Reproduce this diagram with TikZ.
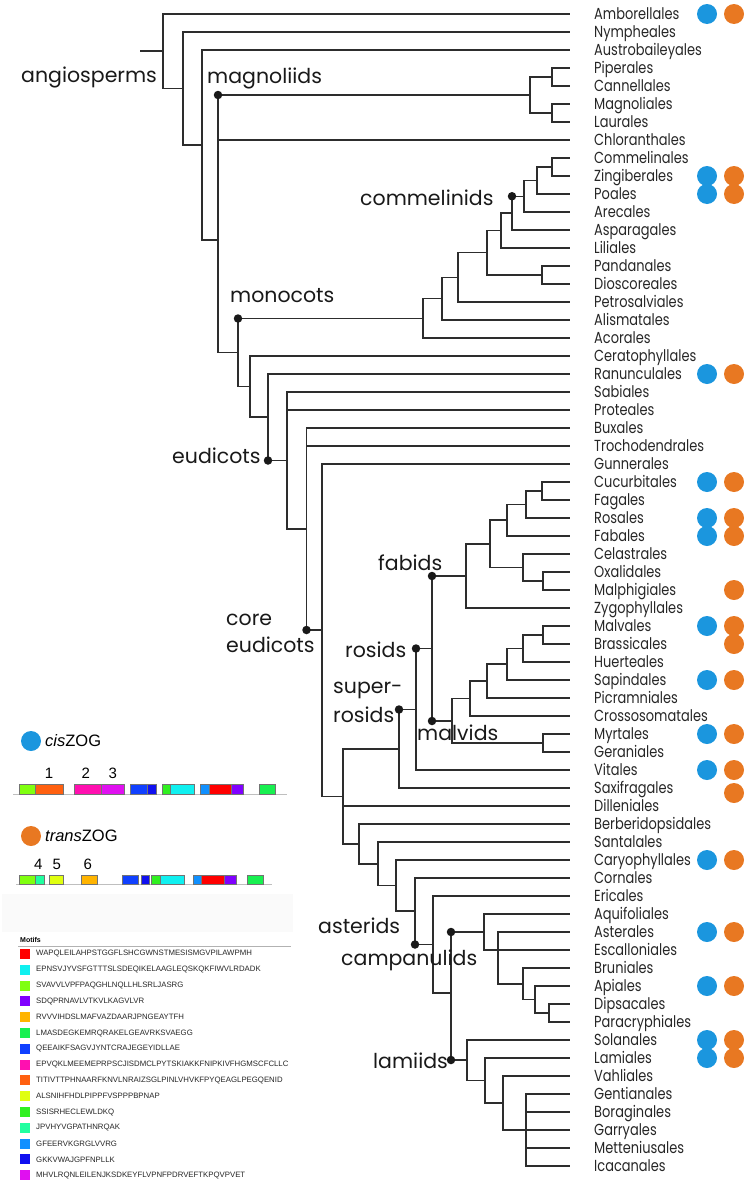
\documentclass[tikz,border=0pt]{standalone}
\usepackage{fontspec}
\setmainfont{Liberation Sans}
\newfontfamily\treefont{Poppins}
\newfontfamily\leaffont[FakeStretch=0.81]{Poppins}
\definecolor{cisblue}{RGB}{27,150,222}
\definecolor{transorange}{RGB}{232,120,34}
\definecolor{treeline}{RGB}{45,45,45}
\definecolor{mRed}{RGB}{255,0,0}
\definecolor{mCyan}{RGB}{16,240,240}
\definecolor{mLime}{RGB}{128,255,16}
\definecolor{mViolet}{RGB}{128,0,255}
\definecolor{mGold}{RGB}{255,180,0}
\definecolor{mSpring}{RGB}{24,240,80}
\definecolor{mBlue}{RGB}{16,64,255}
\definecolor{mPink}{RGB}{255,16,176}
\definecolor{mOrange}{RGB}{255,96,16}
\definecolor{mYellow}{RGB}{224,255,16}
\definecolor{mGreen}{RGB}{48,240,32}
\definecolor{mAqua}{RGB}{32,255,160}
\definecolor{mSky}{RGB}{16,144,255}
\definecolor{mNavy}{RGB}{16,16,240}
\definecolor{mMagenta}{RGB}{224,16,240}
\newcommand\kids[2]{\foreach \c in {#2}{\draw[branch] (#1) |- (\c);}}
\begin{document}
\begin{tikzpicture}[x=1pt,y=-1pt,
  branch/.style={draw=treeline,line width=1.3pt},
  leaflab/.style={anchor=base west,inner sep=0pt,text=black!85,font=\leaffont\fontsize{16}{16}\selectfont},
  cladelab/.style={anchor=base west,inner sep=0pt,text=black!90,font=\treefont\fontsize{20.5}{21}\selectfont},
  cladedot/.style={circle,fill=black!90,inner sep=0pt,minimum size=8.5pt},
  zog/.style={circle,inner sep=0pt,minimum size=20pt},
  gbox/.style={draw=black!55,line width=0.5pt},
  numlab/.style={inner sep=0pt,font=\fontsize{15}{15}\selectfont},
  motiftxt/.style={anchor=west,inner sep=0pt,font=\fontsize{7.8}{8}\selectfont,text=black!85}]
\useasboundingbox (0,0) rectangle (749,1183);
% leaves
\foreach \n [count=\i from 0] in {Amborellales,Nympheales,Austrobaileyales,Piperales,Cannellales,Magnoliales,Laurales,Chloranthales,Commelinales,Zingiberales,Poales,Arecales,Asparagales,Liliales,Pandanales,Dioscoreales,Petrosalviales,Alismatales,Acorales,Ceratophyllales,Ranunculales,Sabiales,Proteales,Buxales,Trochodendrales,Gunnerales,Cucurbitales,Fagales,Rosales,Fabales,Celastrales,Oxalidales,Malphigiales,Zygophyllales,Malvales,Brassicales,Huerteales,Sapindales,Picramniales,Crossosomatales,Myrtales,Geraniales,Vitales,Saxifragales,Dilleniales,Berberidopsidales,Santalales,Caryophyllales,Cornales,Ericales,Aquifoliales,Asterales,Escalloniales,Bruniales,Apiales,Dipsacales,Paracryphiales,Solanales,Lamiales,Vahliales,Gentianales,Boraginales,Garryales,Metteniusales,Icacanales}{
  \pgfmathsetmacro\yy{14+18*\i}
  \pgfmathsetmacro\yb{\yy+5.5}
  \coordinate (L\i) at (570,\yy);
  \node[leaflab] (T\i) at (594,\yb) {\n};
}
% internal nodes
\coordinate (root) at (140,51);
\coordinate (N0) at (163,51);
\coordinate (N1) at (183,88.5);
\coordinate (N2) at (202,145);
\coordinate (N3) at (218,240);
\coordinate (mg) at (530,95);
\coordinate (mg1) at (552,77);
\coordinate (mg2) at (552,113);
\coordinate (N4) at (238,352.5);
\coordinate (mo6) at (423,318.5);
\coordinate (mo5) at (442,298.75);
\coordinate (mo4) at (458,277.5);
\coordinate (mo3) at (487,252.75);
\coordinate (pd) at (542,275);
\coordinate (mo2) at (501,230.5);
\coordinate (mo1) at (512,213);
\coordinate (cm3) at (524,196.25);
\coordinate (cm2) at (537,180.5);
\coordinate (cm1) at (552,167);
\coordinate (N5) at (250,386.5);
\coordinate (N6) at (268,417);
\coordinate (N7) at (287,460.5);
\coordinate (N8) at (306.5,529);
\coordinate (N9) at (322,630);
\coordinate (N10) at (343,796.5);
\coordinate (sr) at (399,749);
\coordinate (R) at (416,709.5);
\coordinate (ro) at (432,648.5);
\coordinate (fa) at (466,576);
\coordinate (f1) at (490,544);
\coordinate (f2) at (507,520);
\coordinate (f4) at (526,504.5);
\coordinate (f5) at (542,491);
\coordinate (f3) at (523,567.5);
\coordinate (f6) at (543,581);
\coordinate (ma) at (452,721);
\coordinate (m2) at (470,698.5);
\coordinate (m3) at (487,681);
\coordinate (m3b) at (507,664);
\coordinate (m4) at (523,648.5);
\coordinate (m4a) at (543,635);
\coordinate (m5) at (543,743);
\coordinate (N11) at (359,844);
\coordinate (N12) at (378,864);
\coordinate (N13) at (396,885.5);
\coordinate (N14) at (415,911);
\coordinate (N15) at (433,944.5);
\coordinate (N16) at (451,993);
\coordinate (C) at (484,932);
\coordinate (C1) at (498,950);
\coordinate (C2) at (523,984);
\coordinate (C3) at (535,999.5);
\coordinate (C4) at (549,1013);
\coordinate (Lm) at (467,1060);
\coordinate (Lm1) at (485,1080.5);
\coordinate (Lm2) at (503,1103);
\coordinate (Lm3) at (526,1130);
% branches
\draw[branch] (root) -- (N0);
\kids{N0}{L0,N1}
\kids{N1}{L1,N2}
\kids{N2}{L2,N3}
\kids{N3}{mg,L7,N4}
\kids{mg}{mg1,mg2}
\kids{mg1}{L3,L4}
\kids{mg2}{L5,L6}
\kids{N4}{mo6,N5}
\kids{mo6}{mo5,L18}
\kids{mo5}{mo4,L17}
\kids{mo4}{mo3,L16}
\kids{mo3}{mo2,pd}
\kids{pd}{L14,L15}
\kids{mo2}{mo1,L13}
\kids{mo1}{cm3,L12}
\kids{cm3}{cm2,L11}
\kids{cm2}{cm1,L10}
\kids{cm1}{L8,L9}
\kids{N5}{L19,N6}
\kids{N6}{L20,N7}
\kids{N7}{L21,L22,N8}
\kids{N8}{L23,L24,N9}
\kids{N9}{L25,N10}
\kids{N10}{sr,L44,N11}
\kids{sr}{R,L43}
\kids{R}{ro,L42}
\kids{ro}{fa,ma}
\kids{fa}{f1,L33}
\kids{f1}{f2,f3}
\kids{f2}{f4,L29}
\kids{f4}{f5,L28}
\kids{f5}{L26,L27}
\kids{f3}{L30,f6}
\kids{f6}{L31,L32}
\kids{ma}{m2,m5}
\kids{m2}{m3,L39}
\kids{m3}{m3b,L38}
\kids{m3b}{m4,L37}
\kids{m4}{m4a,L36}
\kids{m4a}{L34,L35}
\kids{m5}{L40,L41}
\kids{N11}{L45,N12}
\kids{N12}{L46,N13}
\kids{N13}{L47,N14}
\kids{N14}{L48,N15}
\kids{N15}{L49,N16}
\kids{N16}{C,Lm}
\kids{C}{L50,L52,C1}
\kids{C1}{L51,C2}
\kids{C2}{L53,C3}
\kids{C3}{L54,C4}
\kids{C4}{L55,L56}
\kids{Lm}{L57,Lm1}
\kids{Lm1}{L58,Lm2}
\kids{Lm2}{L59,Lm3}
\kids{Lm3}{L60,L61,L62,L63,L64}
% clade dots
\node[cladedot] (dmag) at (218,95) {};
\node[cladedot] (dmono) at (238,318.5) {};
\node[cladedot] (dcomm) at (512,196.25) {};
\node[cladedot] (deud) at (268,460.5) {};
\node[cladedot] (dcore) at (306.5,630) {};
\node[cladedot] (dfab) at (432,576) {};
\node[cladedot] (dros) at (416,648.5) {};
\node[cladedot] (dsup) at (399,709.5) {};
\node[cladedot] (dmal) at (432,721) {};
\node[cladedot] (dast) at (415,944.5) {};
\node[cladedot] (dcamp) at (451,932) {};
\node[cladedot] (dlam) at (451,1060) {};
% clade labels
\node[cladelab] (tang) at (21,82) {angiosperms};
\node[cladelab] (tmag) at (207,83) {magnoliids};
\node[cladelab] (tcomm) at (360,205) {commelinids};
\node[cladelab] (tmono) at (230,302) {monocots};
\node[cladelab] (teud) at (172,463) {eudicots};
\node[cladelab] (tcore1) at (226,625) {core};
\node[cladelab] (tcore2) at (226,652) {eudicots};
\node[cladelab] (tfab) at (378,570) {fabids};
\node[cladelab] (tros) at (345,657) {rosids};
\node[cladelab] (tsup1) at (333,693) {super-};
\node[cladelab] (tsup2) at (333,722) {rosids};
\node[cladelab] (tmal) at (417,740) {malvids};
\node[cladelab] (tast) at (318,933) {asterids};
\node[cladelab] (tcamp) at (341,965) {campanulids};
\node[cladelab] (tlam) at (373,1068) {lamiids};
% ZOG circles
\foreach \i in {0,9,10,20,26,28,29,34,37,40,42,47,51,54,57,58}{
  \pgfmathsetmacro\yy{14+18*\i}
  \node[zog,fill=cisblue] (cb\i) at (707,\yy) {};
  \node[zog,fill=transorange] (co\i) at (734,\yy) {};
}
\node[zog,fill=transorange] (co32) at (734,590) {};
\node[zog,fill=transorange] (co35) at (734,644) {};
\node[zog,fill=transorange] (co43) at (734,793) {};
% legend: cis
\node[zog,fill=cisblue] (lcis) at (31,741) {};
\node[anchor=west,inner sep=0pt,font=\fontsize{16.5}{17}\selectfont] (tcis) at (45,741) {\textit{cis}ZOG};
\draw[black!25,line width=1pt] (13,794) -- (287,794);
\foreach \a/\b/\c in {19.3/35.7/mLime,35.7/63.3/mOrange,74/101.7/mPink,101.7/124.3/mMagenta,130/147.3/mBlue,147.3/156/mNavy,162.3/170.7/mGreen,170.7/194.7/mCyan,200.7/209.3/mSky,209.3/231.7/mRed,231.7/243.3/mViolet,259.3/275.3/mSpring}{
  \draw[gbox,fill=\c] (\a,784) rectangle (\b,794);
}
\node[numlab] (n1) at (49,773) {1};
\node[numlab] (n2) at (85.7,773) {2};
\node[numlab] (n3) at (112.7,773) {3};
% legend: trans
\node[zog,fill=transorange] (ltrans) at (31,836) {};
\node[anchor=west,inner sep=0pt,font=\fontsize{16.5}{17}\selectfont] (ttrans) at (45,836) {\textit{trans}ZOG};
\draw[black!25,line width=1pt] (16,884.3) -- (271.7,884.3);
\foreach \a/\b/\c in {19.3/35.7/mLime,35.7/44.3/mAqua,49.3/63.3/mYellow,81.7/97.7/mGold,122.3/138.3/mBlue,141/149.3/mNavy,151.7/160/mGreen,160/184/mCyan,193.3/201.7/mSky,201.7/224.3/mRed,224.3/236/mViolet,247/263.3/mSpring}{
  \draw[gbox,fill=\c] (\a,875) rectangle (\b,884.3);
}
\node[numlab] (n4) at (38.3,864) {4};
\node[numlab] (n5) at (56.7,864) {5};
\node[numlab] (n6) at (87.7,864) {6};
% motif table
\fill[black!2] (2,894) rectangle (293,932);
\node[anchor=base west,inner sep=0pt,font=\bfseries\fontsize{7}{8}\selectfont] (tmotifs) at (20,942) {Motifs};
\draw[black!30,line width=0.8pt] (18,946.5) -- (291,946.5);
\foreach \c/\t [count=\k from 0] in {mRed/WAPQLEILAHPSTGGFLSHCGWNSTMESISMGVPILAWPMH,mCyan/EPNSVJYVSFGTTTSLSDEQIKELAAGLEQSKQKFIWVLRDADK,mLime/SVAVVLVPFPAQGHLNQLLHLSRLJASRG,mViolet/SDQPRNAVLVTKVLKAGVLVR,mGold/RVVVIHDSLMAFVAZDAARJPNGEAYTFH,mSpring/LMASDEGKEMRQRAKELGEAVRKSVAEGG,mBlue/QEEAIKFSAGVJYNTCRAJEGEYIDLLAE,mPink/EPVQKLMEEMEPRPSCJISDMCLPYTSKIAKKFNIPKIVFHGMSCFCLLC,mOrange/TITIVTTPHNAARFKNVLNRAIZSGLPINLVHVKFPYQEAGLPEGQENID,mYellow/ALSNIHFHDLPIPPFVSPPPBPNAP,mGreen/SSISRHECLEWLDKQ,mAqua/JPVHYVGPATHNRQAK,mSky/GFEERVKGRGLVVRG,mNavy/GKKVWAJGPFNPLLK,mMagenta/MHVLRQNLEILENJKSDKEYFLVPNFPDRVEFTKPQVPVET}{
  \pgfmathsetmacro\yy{954+15.8*\k}
  \fill[\c] (20.3,\yy-5) rectangle (30.3,\yy+5);
  \node[motiftxt] (mt\k) at (36,\yy) {\t};
}
\end{tikzpicture}
\end{document}
